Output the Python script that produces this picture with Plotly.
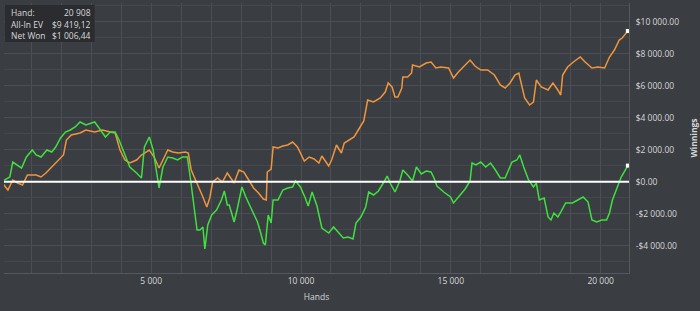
import plotly.graph_objects as go

# ---- data ----
won_hands = [0, 283, 381, 511, 674, 836, 1032, 1162, 1324, 1520, 1682, 1813, 1975, 2138, 2301, 2463, 2626, 2821,
             3114, 3309, 3472, 3635, 3797, 3928, 4090, 4286, 4513, 4676, 4774, 4936, 5066, 5164, 5262, 5392, 5555,
             5717, 5880, 6043, 6205, 6303, 6401, 6531, 6629, 6726, 6791, 6889, 7019, 7182, 7344, 7442, 7540, 7605,
             7702, 7767, 7865, 8028, 8158, 8320, 8418, 8548, 8646, 8744, 8809, 8906, 9004, 9069, 9232, 9394, 9557,
             9720, 9817, 9980, 10143, 10240, 10371, 10533, 10696, 10924, 11086, 11249, 11412, 11574, 11737, 11835,
             11998, 12160, 12258, 12421, 12583, 12746, 12876, 12974, 13136, 13299, 13397, 13559, 13722, 13852, 14015,
             14178, 14340, 14438, 14536, 14764, 14991, 15089, 15252, 15479, 15642, 15707, 15837, 16000, 16163, 16325,
             16488, 16651, 16813, 16944, 17041, 17204, 17302, 17432, 17594, 17757, 17855, 17952, 18115, 18245, 18343,
             18440, 18571, 18668, 18831, 19059, 19254, 19417, 19579, 19709, 19872, 20035, 20198, 20295, 20393, 20556,
             20686, 20908]
won_values = [0, 294, 1231, 1044, 856, 1544, 1981, 1669, 1544, 1981, 1856, 2169, 2731, 3106, 3231, 3419, 3731, 3544,
              3731, 3231, 2794, 3106, 3106, 2606, 1794, 919, 544, 231, 2169, 2794, 1981, 919, -394, 919, 1544,
              1481, 1356, 1544, 1544, 294, -1019, -3019, -3019, -2831, -4206, -2706, -2081, -1769, -1144, -581, -1456, -1456,
              -2081, -2519, -1769, -331, -956, -1581, -1956, -2519, -3144, -3831, -3956, -2081, -2581, -1144, -1144, -519, -394,
              -331, 44, -331, -1019, -1519, -644, -1519, -2894, -3206, -2831, -3144, -3519, -3456, -3581, -2581,
              -2206, -1581, -644, -831, -581, -81, 356, -81, -644, 44, 731, 419, 44, 919, 481,
              669, 606, 231, -269, -644, -956, -1331, -956, -456, 44, 1169, 1044, 1231, 919, 1169,
              731, 231, 231, 856, 1231, 1356, 1669, 919, 106, -331, -81, -1144, -1019, -2206, -2394,
              -1956, -2206, -1894, -1331, -1331, -1144, -956, -1269, -2394, -2519, -2394, -2394, -1956, -1144, -331,
              294, 1006.44]

ev_hands = [0, 218, 381, 543, 706, 869, 1162, 1324, 1487, 1682, 1845, 2073, 2170, 2333, 2626, 2821, 3114, 3374,
            3635, 3797, 3960, 4123, 4286, 4513, 4676, 4774, 4936, 5099, 5262, 5392, 5555, 5717, 5912, 6140, 6238,
            6336, 6466, 6596, 6726, 6856, 6954, 7052, 7214, 7377, 7540, 7767, 7930, 8093, 8255, 8418, 8581, 8744,
            8841, 8874, 9004, 9069, 9232, 9394, 9557, 9720, 9882, 9980, 10110, 10273, 10436, 10598, 10696, 10924,
            11021, 11184, 11347, 11444, 11607, 11770, 11932, 12095, 12225, 12421, 12648, 12811, 12909, 13039, 13136,
            13234, 13364, 13397, 13559, 13690, 13722, 13950, 14178, 14340, 14503, 14656, 14926, 15089, 15252, 15479,
            15642, 15805, 16000, 16228, 16455, 16651, 16813, 16976, 17139, 17269, 17367, 17464, 17627, 17757, 17855,
            18017, 18245, 18408, 18571, 18668, 18733, 18896, 19091, 19319, 19482, 19709, 19905, 20132, 20295, 20458,
            20621, 20718, 20908]
ev_values = [0, -519, 106, -81, -206, 419, 419, 294, 544, 919, 1231, 1669, 2606, 2919, 3044, 3231, 3106, 3231,
             3106, 3044, 1981, 1356, 1169, 1356, 1669, 1794, 1981, 1544, 856, 1356, 1981, 1856, 1794, 1856, 1794,
             731, 106, -394, -956, -1581, -1019, -19, 231, -19, 544, -81, 731, 606, 106, -394, -706, -1081,
             -1144, 606, 794, 2169, 2106, 2231, 2294, 2481, 2169, 1794, 1294, 1544, 1419, 1169, 1606, 981,
             1356, 2294, 1794, 2419, 2606, 2794, 3294, 3794, 5106, 4981, 5231, 5606, 6169, 5919, 5294,
             5294, 5856, 6544, 6544, 6794, 7294, 7169, 7419, 7481, 7106, 7169, 7106, 6481, 6856, 7294,
             7606, 7231, 6981, 6981, 6669, 6044, 5856, 6169, 6669, 6794, 5919, 5231, 4794, 4981, 6356,
             5919, 5731, 6169, 5731, 5419, 6669, 7169, 7481, 7794, 7481, 7106, 7169, 7106, 7794, 8231,
             8856, 8981, 9419.12]

y_ticks = [-4000, -2000, 0, 2000, 4000, 6000, 8000, 10000]
y_tick_labels = ["-$4 000.00", "-$2 000.00", "$0.00", "$2 000.00", "$4 000.00", "$6 000.00", "$8 000.00", "$10 000.00"]
x_ticks = [5000, 10000, 15000, 20000]
x_tick_labels = ["5 000", "10 000", "15 000", "20 000"]

info_labels = ["Hand:", "All-In EV", "Net Won"]
info_values = ["20 908", "$9 419,12", "$1 006,44"]

BG = "#3a3d42"
GRID = "#4b4e54"
ORANGE = "#f0953c"
GREEN = "#3fe03f"
TEXT = "#d8d8d8"

fig = go.Figure()
fig.add_trace(go.Scatter(x=ev_hands, y=ev_values, mode="lines", line=dict(color=ORANGE, width=1.5),
                         name="All-In EV", hoverinfo="skip"))
fig.add_trace(go.Scatter(x=won_hands, y=won_values, mode="lines", line=dict(color=GREEN, width=1.5),
                         name="Net Won", hoverinfo="skip"))
fig.add_trace(go.Scatter(x=[ev_hands[-1], won_hands[-1]], y=[ev_values[-1], won_values[-1]], mode="markers",
                         marker=dict(color="white", size=4, symbol="square"), hoverinfo="skip"))

fig.add_hline(y=0, line=dict(color="white", width=2))

# tooltip box
fig.add_shape(type="rect", xref="paper", yref="paper", x0=0.0016, x1=0.145, y0=0.856, y1=0.993,
              fillcolor="#2a2c30", line=dict(color="#2a2c30", width=0), layer="above")
rows_y = [0.966, 0.922, 0.878]
for lab, val, yy in zip(info_labels, info_values, rows_y):
    fig.add_annotation(xref="paper", yref="paper", x=0.008, y=yy, text=lab, showarrow=False,
                       xanchor="left", yanchor="middle", font=dict(size=8.5, color=TEXT))
    fig.add_annotation(xref="paper", yref="paper", x=0.142, y=yy, text=val, showarrow=False,
                       xanchor="right", yanchor="middle", font=dict(size=8.5, color=TEXT))

fig.update_layout(
    width=700, height=311,
    margin=dict(l=4, r=55, t=3, b=38),
    paper_bgcolor=BG, plot_bgcolor=BG,
    showlegend=False,
    font=dict(family="Open Sans", color=TEXT, size=9),
    xaxis=dict(range=[88, 20946], tickmode="array", tickvals=x_ticks, ticktext=x_tick_labels,
               showgrid=True, gridcolor=GRID, gridwidth=1, zeroline=False,
               minor=dict(dtick=1000, tick0=0, showgrid=True, gridcolor=GRID, gridwidth=1),
               showline=True, linecolor="#55585e", mirror=False,
               tickfont=dict(size=8.5, color=TEXT), ticks="", ticklabelstandoff=0,
               title=dict(text="Hands", font=dict(size=8.5, color=TEXT), standoff=8)),
    yaxis=dict(range=[-5706, 11169], side="right", tickmode="array", tickvals=y_ticks, ticktext=y_tick_labels,
               showgrid=True, gridcolor=GRID, gridwidth=1, zeroline=False,
               minor=dict(dtick=1000, tick0=0, showgrid=True, gridcolor="#44474c", gridwidth=1),
               showline=True, linecolor="#55585e",
               tickfont=dict(size=8.5, color=TEXT), ticks="", ticklabelstandoff=4,
               title=dict(text="<b>Winnings</b>", font=dict(size=8.5, color=TEXT), standoff=12)),
)

fig.write_html("out.html")
